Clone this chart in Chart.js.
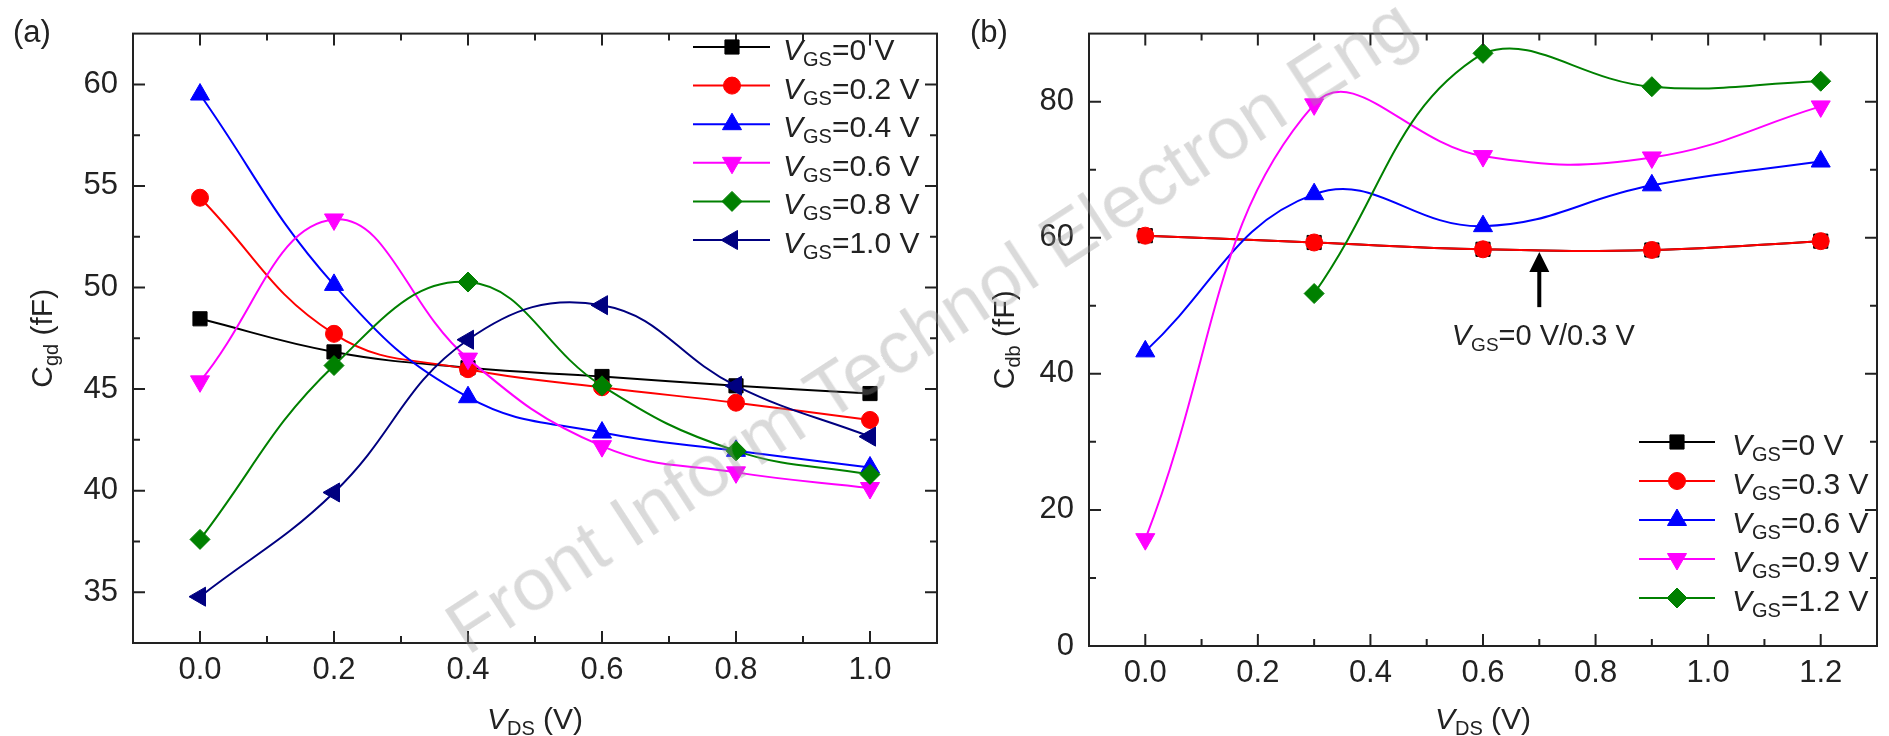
<!DOCTYPE html>
<html>
<head>
<meta charset="UTF-8">
<title>Cgd / Cdb vs VDS</title>
<script src="https://cdn.jsdelivr.net/npm/chart.js"></script>
<style>
  * { margin: 0; padding: 0; }
  body { width: 1889px; height: 736px; background: #fff; position: relative; overflow: hidden; }
  canvas { position: absolute; top: 0; }
  #chartA { left: 0; width: 950px; height: 736px; }
  #chartB { left: 950px; width: 939px; height: 736px; }
  .watermark {
    position: absolute;
    left: 468px;
    top: 593px;
    font-family: 'Liberation Sans', Arial, sans-serif;
    font-size: 75px;
    line-height: 75px;
    white-space: nowrap;
    color: rgba(150, 150, 150, 0.35);
    transform-origin: 0 64px;
    transform: rotate(-33deg);
    pointer-events: none;
  }
</style>
</head>
<body>
<canvas id="chartA" width="950" height="736"></canvas>
<canvas id="chartB" width="939" height="736"></canvas>
<div class="watermark">Front Inform Technol Electron Eng</div>

<script>
const FONT = "'Liberation Sans', Arial, sans-serif";
const TEXT = '#222';

// (a) Cgd vs VDS
const vdsA = [0, 0.2, 0.4, 0.6, 0.8, 1.0];
const cgd00 = [48.46, 46.83, 46.05, 45.62, 45.16, 44.78];
const cgd02 = [54.42, 47.72, 45.98, 45.09, 44.33, 43.48];
const cgd04 = [59.50, 50.13, 44.60, 42.86, 41.96, 41.14];
const cgd06 = [45.38, 53.35, 46.50, 42.19, 40.90, 40.13];
const cgd08 = [37.60, 46.16, 50.27, 45.16, 41.96, 40.80];
const cgd10 = [34.78, 39.91, 47.43, 49.13, 45.16, 42.66];
const labelsA = ['0 V', '0.2 V', '0.4 V', '0.6 V', '0.8 V', '1.0 V'];

// (b) Cdb vs VDS (0 V and 0.3 V coincide)
const vdsB = [0, 0.3, 0.6, 0.9, 1.2];
const cdb00 = [60.3, 59.3, 58.3, 58.2, 59.5];
const cdb03 = [60.3, 59.3, 58.3, 58.2, 59.5];
const cdb06 = [43.3, 66.4, 61.7, 67.7, 71.2];
const cdb09 = [15.7, 79.6, 72.0, 71.8, 79.3];
const cdb12 = [null, 51.8, 87.1, 82.2, 83.0];
const labelsB = ['0 V', '0.3 V', '0.6 V', '0.9 V', '1.2 V'];

// arrow annotation in (b), in data units
const annotX = 0.7;
const annotTip = 57.9;
const annotTail = 49.8;

const STYLE = {
  black:   { color: '#000000', style: 'rect', rot: 0, r: 10 },
  red:     { color: '#ff0000', style: 'circle', rot: 0, r: 8.5 },
  blue:    { color: '#0000ff', style: 'triangle', rot: 0, r: 11 },
  magenta: { color: '#ff00ff', style: 'triangle', rot: 180, r: 11 },
  green:   { color: '#008000', style: 'rectRot', rot: 0, r: 10 },
  navy:    { color: '#000080', style: 'triangle', rot: -90, r: 11 },
};

function richText(ctx, parts, x, y, size, align) {
  const fontFor = p => (p[1] === 'i' ? 'italic ' : '') +
    (p[1] === 's' ? Math.round(size * 0.66) : size) + 'px ' + FONT;
  let w = 0;
  parts.forEach(p => { ctx.font = fontFor(p); w += ctx.measureText(p[0]).width; });
  let cx = align === 'center' ? x - w / 2 : x;
  ctx.textAlign = 'left';
  ctx.textBaseline = 'alphabetic';
  parts.forEach(p => {
    ctx.font = fontFor(p);
    ctx.fillText(p[0], cx, p[1] === 's' ? y + size * 0.2 : y);
    cx += ctx.measureText(p[0]).width;
  });
}

const vgs = v => [['V', 'i'], ['GS', 's'], ['=' + v, '']];

// box + inward ticks on all four sides
const framePlugin = {
  id: 'frame',
  afterDatasetsDraw(chart, args, o) {
    const { ctx, chartArea: a } = chart;
    const marks = (scale, minor, major) => {
      const out = [];
      const n0 = Math.ceil(scale.min / minor - 1e-6), n1 = Math.floor(scale.max / minor + 1e-6);
      for (let n = n0; n <= n1; n++) {
        const v = n * minor;
        const isMajor = Math.abs(v / major - Math.round(v / major)) < 1e-6;
        out.push({ px: scale.getPixelForValue(v), len: isMajor ? 12 : 7 });
      }
      return out;
    };
    ctx.save();
    ctx.strokeStyle = TEXT;
    ctx.lineWidth = 2;
    ctx.beginPath();
    marks(chart.scales.x, o.xMinor, o.xMajor).forEach(m => {
      if (m.px <= a.left + 2 || m.px >= a.right - 2) return;
      ctx.moveTo(m.px, a.bottom); ctx.lineTo(m.px, a.bottom - m.len);
      ctx.moveTo(m.px, a.top); ctx.lineTo(m.px, a.top + m.len);
    });
    marks(chart.scales.y, o.yMinor, o.yMajor).forEach(m => {
      if (m.px <= a.top + 2 || m.px >= a.bottom - 2) return;
      ctx.moveTo(a.left, m.px); ctx.lineTo(a.left + m.len, m.px);
      ctx.moveTo(a.right, m.px); ctx.lineTo(a.right - m.len, m.px);
    });
    ctx.stroke();
    ctx.strokeRect(a.left, a.top, a.right - a.left, a.bottom - a.top);
    ctx.restore();
  }
};

// legend rows: line + marker + V_GS label
const legendPlugin = {
  id: 'vlegend',
  afterDraw(chart, args, o) {
    const { ctx } = chart;
    const H = Chart.helpers;
    ctx.save();
    chart.data.datasets.forEach((ds, i) => {
      const y = o.y0 + i * o.dy;
      ctx.strokeStyle = ds.borderColor;
      ctx.lineWidth = 2;
      ctx.beginPath(); ctx.moveTo(o.x1, y); ctx.lineTo(o.x2, y); ctx.stroke();
      ctx.fillStyle = ds.borderColor;
      ctx.lineWidth = 1;
      H.drawPoint(ctx, { pointStyle: ds.pointStyle, rotation: ds.pointRotation, radius: ds.pointRadius, borderWidth: 1 }, o.mx, y);
      ctx.fillStyle = TEXT;
      richText(ctx, vgs(ds.label), o.tx, y + 13, 30, 'left');
    });
    ctx.restore();
  }
};

const titlePlugin = {
  id: 'titles',
  afterDraw(chart, args, o) {
    const { ctx, chartArea: a } = chart;
    ctx.save();
    ctx.fillStyle = TEXT;
    ctx.font = '31px ' + FONT;
    ctx.textAlign = 'left';
    ctx.textBaseline = 'alphabetic';
    ctx.fillText(o.panel, o.panelX, 42);
    richText(ctx, [['V', 'i'], ['DS', 's'], [' (V)', '']], (a.left + a.right) / 2, 729, 30, 'center');
    ctx.translate(o.yTitleX, (a.top + a.bottom) / 2);
    ctx.rotate(-Math.PI / 2);
    richText(ctx, o.yTitle, 0, 0, 30, 'center');
    ctx.restore();
  }
};

const arrowPlugin = {
  id: 'arrow',
  afterDatasetsDraw(chart, args, o) {
    if (o.x === undefined) return;
    const { ctx } = chart;
    const px = chart.scales.x.getPixelForValue(o.x);
    const tip = chart.scales.y.getPixelForValue(o.tip);
    const tail = chart.scales.y.getPixelForValue(o.tail);
    ctx.save();
    ctx.strokeStyle = '#000';
    ctx.fillStyle = '#000';
    ctx.lineWidth = 4;
    ctx.beginPath(); ctx.moveTo(px, tail); ctx.lineTo(px, tip + 16); ctx.stroke();
    ctx.beginPath(); ctx.moveTo(px, tip); ctx.lineTo(px - 10, tip + 20); ctx.lineTo(px + 10, tip + 20);
    ctx.closePath(); ctx.fill();
    ctx.fillStyle = TEXT;
    richText(ctx, [['V', 'i'], ['GS', 's'], ['=0 V/0.3 V', '']], px + 4, tail + 38, 29, 'center');
    ctx.restore();
  }
};

function buildDatasets(xs, series, labels, styles) {
  return series.map((ys, i) => {
    const s = STYLE[styles[i]];
    return {
      label: labels[i],
      data: xs.map((x, j) => ({ x, y: ys[j] })).filter(p => p.y !== null),
      borderColor: s.color,
      backgroundColor: s.color,
      pointStyle: s.style,
      pointRotation: s.rot,
      pointRadius: s.r,
      pointBorderWidth: 1,
      pointBorderColor: s.color,
      pointBackgroundColor: s.color,
      borderWidth: 2,
      tension: 0.42,
      fill: false,
      order: series.length - i,
    };
  });
}

// major tick labels only at whole multiples of the step
function axis(min, max, step, fmt, padding, fit) {
  return {
    type: 'linear', min, max,
    grid: { display: false, drawTicks: false },
    border: { display: false },
    ticks: {
      autoSkip: false, maxRotation: 0,
      padding, color: TEXT, font: { size: 31, family: FONT },
      callback: fmt,
    },
    afterBuildTicks: scale => {
      const t = [];
      for (let n = Math.ceil(min / step - 1e-6); n * step <= max + 1e-6; n++) {
        t.push({ value: +(n * step).toFixed(6) });
      }
      scale.ticks = t;
    },
    afterFit: fit,
  };
}

function makeChart(id, datasets, opts) {
  return new Chart(document.getElementById(id), {
    type: 'line',
    data: { datasets },
    options: {
      responsive: false,
      animation: false,
      devicePixelRatio: 1,
      layout: { padding: opts.padding },
      plugins: {
        legend: { display: false },
        tooltip: { enabled: false },
        frame: opts.frame,
        vlegend: opts.legend,
        titles: opts.titles,
        arrow: opts.arrow || {},
      },
      scales: {
        x: axis(opts.xMin, opts.xMax, opts.frame.xMajor, v => v.toFixed(1), 9, s => { s.height = opts.xHeight; }),
        y: axis(opts.yMin, opts.yMax, opts.frame.yMajor, v => String(Math.round(v)), 15, s => { s.width = opts.yWidth; }),
      },
    },
    plugins: [framePlugin, legendPlugin, titlePlugin, arrowPlugin],
  });
}

makeChart('chartA',
  buildDatasets(vdsA, [cgd00, cgd02, cgd04, cgd06, cgd08, cgd10], labelsA,
    ['black', 'red', 'blue', 'magenta', 'green', 'navy']),
  {
    padding: { left: 0, top: 13, right: 13, bottom: 0 },
    xMin: -0.1, xMax: 1.1, yMin: 32.5, yMax: 62.5,
    xHeight: 93, yWidth: 133,
    frame: { xMajor: 0.2, xMinor: 0.1, yMajor: 5, yMinor: 2.5 },
    legend: { x1: 693, x2: 770, mx: 732, tx: 783, y0: 47, dy: 38.6 },
    titles: { panel: '(a)', panelX: 13, yTitleX: 52, yTitle: [['C', ''], ['gd', 's'], [' (fF)', '']] },
  });

makeChart('chartB',
  buildDatasets(vdsB, [cdb00, cdb03, cdb06, cdb09, cdb12], labelsB,
    ['black', 'red', 'blue', 'magenta', 'green']),
  {
    padding: { left: 0, top: 16, right: 1, bottom: 0 },
    xMin: -0.1, xMax: 1.3, yMin: 0, yMax: 90,
    xHeight: 90, yWidth: 139,
    frame: { xMajor: 0.2, xMinor: 0.1, yMajor: 20, yMinor: 10 },
    legend: { x1: 689, x2: 765, mx: 727, tx: 782, y0: 442, dy: 39 },
    titles: { panel: '(b)', panelX: 20, yTitleX: 64, yTitle: [['C', ''], ['db', 's'], [' (fF)', '']] },
    arrow: { x: annotX, tip: annotTip, tail: annotTail },
  });
</script>
</body>
</html>
